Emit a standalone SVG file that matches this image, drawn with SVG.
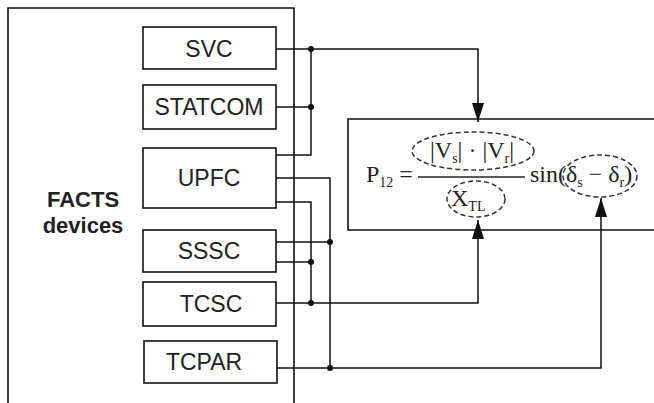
<svg xmlns="http://www.w3.org/2000/svg" width="654" height="403" viewBox="0 0 654 403">
<defs>
<style>
.box{fill:#fff;stroke:#111;stroke-width:1.6}
.frame{fill:none;stroke:#111;stroke-width:1.6}
.lbl{font-family:"Liberation Sans",Arial,sans-serif;font-size:23px;fill:#222;text-anchor:middle}
.big{font-family:"Liberation Sans",Arial,sans-serif;font-size:22px;font-weight:bold;fill:#222;text-anchor:middle}
.w{fill:none;stroke:#111;stroke-width:1.5}
.dot{fill:#111}
.math{font-family:"Liberation Serif","Times New Roman",serif;font-size:24px;fill:#222}
.sub{font-size:14px}
.dash{fill:none;stroke:#333;stroke-width:1.5;stroke-dasharray:5 3}
</style>
<marker id="arr" markerWidth="20" markerHeight="12" refX="19" refY="6" orient="auto" markerUnits="userSpaceOnUse" viewBox="0 0 20 12">
<path d="M0,0 L19,6 L0,12 Z" fill="#111"/>
</marker>
</defs>
<rect width="654" height="403" fill="#fff"/>
<g id="facts-frame">
<path class="frame" d="M8,410 V8 H294 V410"/>
<text class="big" x="83" y="207">FACTS</text>
<text class="big" x="83" y="233">devices</text>
</g>
<g id="formula-box">
<path class="frame" d="M660,119 H348 V230 H660"/>
<text class="math" x="366" y="182">P<tspan class="sub" dy="5">12</tspan><tspan dy="-5"> =</tspan></text>
<line x1="418" y1="177" x2="525" y2="177" stroke="#222" stroke-width="1.6"/>
<text class="math" x="430" y="158">|V<tspan class="sub" dy="5">s</tspan><tspan dy="-5">| · |V</tspan><tspan class="sub" dy="5">r</tspan><tspan dy="-5">|</tspan></text>
<text class="math" x="451" y="206">X<tspan class="sub" dy="5">TL</tspan></text>
<text class="math" x="530" y="182">sin(δ<tspan class="sub" dy="5">s</tspan><tspan dy="-5"> − δ</tspan><tspan class="sub" dy="5">r</tspan><tspan dy="-5">)</tspan></text>
<ellipse class="dash" cx="473" cy="151" rx="61" ry="19"/>
<ellipse class="dash" cx="476" cy="199" rx="29" ry="18"/>
<ellipse class="dash" cx="600" cy="176" rx="37" ry="21"/>
</g>
<g id="svc"><rect class="box" x="143" y="27" width="133" height="42"/><text class="lbl" x="209" y="57">SVC</text></g>
<g id="statcom"><rect class="box" x="143" y="85" width="133" height="44"/><text class="lbl" x="209" y="115">STATCOM</text></g>
<g id="upfc"><rect class="box" x="143" y="148" width="133" height="60"/><text class="lbl" x="209" y="186">UPFC</text></g>
<g id="sssc"><rect class="box" x="143" y="230" width="133" height="42"/><text class="lbl" x="209" y="259">SSSC</text></g>
<g id="tcsc"><rect class="box" x="143" y="282" width="133" height="44"/><text class="lbl" x="211" y="312">TCSC</text></g>
<g id="tcpar"><rect class="box" x="144" y="341" width="133" height="42"/><text class="lbl" x="204" y="370">TCPAR</text></g>
<g id="connectors">
<path class="w" d="M276,49 H478 V122" marker-end="url(#arr)"/>
<path class="w" d="M276,107 H311"/>
<path class="w" d="M276,155 H311 V49"/>
<path class="w" d="M276,178 H330 V368"/>
<path class="w" d="M276,202 H311 V303"/>
<path class="w" d="M276,242 H330"/>
<path class="w" d="M276,262 H311"/>
<path class="w" d="M276,303 H478 V220" marker-end="url(#arr)"/>
<path class="w" d="M277,368 H601 V198" marker-end="url(#arr)"/>
<circle class="dot" cx="311" cy="49" r="3"/>
<circle class="dot" cx="311" cy="107" r="3"/>
<circle class="dot" cx="330" cy="242" r="3"/>
<circle class="dot" cx="311" cy="262" r="3"/>
<circle class="dot" cx="311" cy="303" r="3"/>
<circle class="dot" cx="330" cy="368" r="3"/>
</g>
</svg>
